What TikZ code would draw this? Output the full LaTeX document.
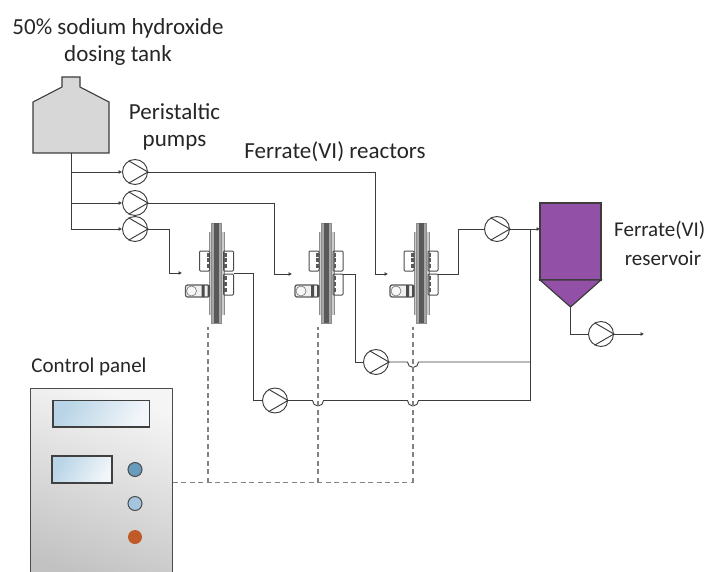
\documentclass[tikz,border=0pt]{standalone}
\usepackage{fontspec}
\setmainfont{Carlito}
\usetikzlibrary{arrows.meta}
\definecolor{pipe}{RGB}{60,60,60}
\definecolor{dash}{RGB}{130,130,130}
\definecolor{tankgrey}{RGB}{215,215,215}
\definecolor{resv}{RGB}{146,80,166}
\definecolor{scrA}{RGB}{184,212,230}
\definecolor{scrB}{RGB}{242,246,250}
\definecolor{knobA}{RGB}{104,156,188}
\definecolor{knobB}{RGB}{164,196,224}
\definecolor{knobC}{RGB}{192,90,40}
\tikzset{
  pipeline/.style={draw=pipe,line width=.9pt},
  flowarrow/.style={pipeline,-{Latex[length=3.5pt,width=4pt]}},
  signal/.style={draw=dash,line width=1.1pt,dash pattern=on 5pt off 3.5pt},
  pumpnode/.style={circle,draw=pipe,line width=.95pt,minimum size=25pt,inner sep=0pt,fill=white},
  label/.style={font=\fontsize{23}{27}\selectfont,text=black!85,inner sep=0pt},
  smalllabel/.style={font=\fontsize{21}{25}\selectfont,text=black!85,inner sep=0pt},
  screenbox/.style={draw=black!75,line width=1.1pt,shading=axis,left color=scrA,right color=scrB,shading angle=60},
  knob/.style={circle,draw=black!70,line width=1pt,minimum size=14pt,inner sep=0pt},
  rpart/.style={draw=black!70,line width=1pt},
}
\newcommand{\pumpglyph}[1]{%
  \draw[pipe,line width=.95pt] (#1.120) -- (#1.east) -- (#1.240);}
\newcommand{\reactor}[2]{%
\begin{scope}[shift={(#1,#2)}]
  \fill[black!20] (-7,9) rectangle (8,92);
  \draw[draw=black!45,line width=.6pt] (-7,9) -- (-7,92) (8,9) -- (8,92);
  \fill[black!35] (-5,0) rectangle (5,100);
  \draw[draw=black!45,line width=.6pt] (-5,0) -- (-5,100) -- (5,100) -- (5,0) -- cycle;
  \fill[black!65] (-2.5,0) rectangle (2.5,100);
  \draw[rpart,rounded corners=1pt] (-17,28) rectangle (-7,48);
  \draw[rpart,rounded corners=1pt] (7,28) rectangle (17,48);
  \draw[rpart,rounded corners=1pt] (7,51) rectangle (17,72);
  \foreach \kx/\ky in {-9/32,-9/37,-9/43,8.5/32,8.5/37,8.5/43,8.5/55,8.5/61,8.5/67}
    {\fill[black!65] (\kx-1,\ky-2) rectangle (\kx+1.5,\ky+2);}
  \draw[draw=black!65,line width=1.2pt,rounded corners=2pt,fill=black!6] (-31,62) rectangle (-7,74);
  \fill[black!70] (-15,62) rectangle (-12,74) (-9,62) rectangle (-7,74);
  \draw[draw=black!50,line width=.7pt,fill=black!3] (-25,68) circle (5);
\end{scope}}
\begin{document}
\begin{tikzpicture}[x=1pt,y=-1pt]
\useasboundingbox (0,0) rectangle (711,572);
\clip (0,0) rectangle (711,572);
% labels
\node[label,align=center] (tanklabel) at (118,41.5) {50\% sodium hydroxide\\dosing tank};
\node[label,align=center] (pumplabel) at (174.5,127) {Peristaltic\\pumps};
\node[label] (reactorlabel) at (335,152) {Ferrate(VI) reactors};
\node[smalllabel] (panellabel) at (89,367) {Control panel};
\node[smalllabel,anchor=west] (reservoirlabel) at (614,230) {Ferrate(VI)};
\node[smalllabel] (reservoirlabel2) at (663,258) {reservoir};
% tank
\draw[pipe,line width=1.1pt,fill=tankgrey] (33,153) -- (33,102) -- (62,87) -- (62,77) -- (80,77) -- (80,87) -- (109,102) -- (109,153) -- cycle;
\coordinate (tankout) at (71,153);
\coordinate (j1) at (71,172);
\coordinate (j2) at (71,203);
\coordinate (j3) at (71,229);
% reactors
\reactor{216.5}{223}
\reactor{326}{223}
\reactor{421}{223}
% pumps
\node[pumpnode] (p1) at (135,172) {};
\node[pumpnode] (p2) at (135,203) {};
\node[pumpnode] (p3) at (135,229) {};
\node[pumpnode] (p4) at (497,229) {};
\node[pumpnode] (p5) at (376,362) {};
\node[pumpnode] (p6) at (275,400.5) {};
\node[pumpnode] (p7) at (601,334) {};
\foreach \p in {p1,p2,p3,p4,p5,p6,p7} {\pumpglyph{\p}}
% reservoir
\draw[pipe,line width=1.2pt,fill=resv] (540,203) rectangle (601,280);
\draw[pipe,line width=1.2pt,fill=resv] (540,280) -- (601,280) -- (570.5,307) -- cycle;
\coordinate (resin) at (540,229);
\coordinate (resout) at (570.5,307);
\coordinate (out) at (644,334);
% pipes
\draw[pipeline] (tankout) -- (j3);
\draw[flowarrow] (j1) -- (p1.west);
\draw[flowarrow] (j2) -- (p2.west);
\draw[flowarrow] (j3) -- (p3.west);
\coordinate (r1in) at (182,273);
\coordinate (r2in) at (292,274);
\coordinate (r3in) at (388,274);
\draw[flowarrow] (p1.east) -- (375,172) -- (375,274) -- (r3in);
\draw[flowarrow] (p2.east) -- (274,203) -- (274,274) -- (r2in);
\draw[flowarrow] (p3.east) -- (169,229) -- (169,273) -- (r1in);
\coordinate (r1out) at (233.5,273);
\coordinate (r2out) at (343,274);
\coordinate (r3out) at (438,274);
\draw[pipeline] (r1out) -- (253,273) -- (253,400.5) -- (p6.west);
\draw[pipeline] (r2out) -- (355,274) -- (355,362) -- (p5.west);
\draw[pipeline] (r3out) -- (458,274) -- (458,229) -- (p4.west);
\draw[flowarrow] (p4.east) -- (resin);
\coordinate (b4) at (530,229);
\coordinate (b5) at (530,362);
\coordinate (b6) at (530,400.5);
\draw[pipeline] (p5.east) -- (407.5,362) arc[start angle=180,end angle=0,radius=5.5] -- (b5);
\draw[pipeline] (p6.east) -- (312.5,400.5) arc[start angle=180,end angle=0,radius=5.5] -- (407.5,400.5) arc[start angle=180,end angle=0,radius=5.5] -- (b6);
\draw[pipeline] (b4) -- (b6);
\draw[pipeline] (resout) -- (570.5,334) -- (p7.west);
\draw[flowarrow] (p7.east) -- (out);
% control panel
\draw[draw=black!70,line width=1.2pt,shading=axis,top color=black!4,bottom color=black!24,shading angle=-20] (30.5,388.5) -- (172.5,388.5) -- (172.5,585) -- (30.5,585) -- cycle;
\draw[screenbox] (53,400.5) rectangle (149.5,427);
\draw[screenbox] (52,456) rectangle (112,483);
\node[knob,fill=knobA] (k1) at (135,469.5) {};
\node[knob,fill=knobB] (k2) at (135,503.5) {};
\node[circle,fill=knobC,minimum size=14pt,inner sep=0pt] (k3) at (135,537) {};
% signal lines
\coordinate (sp) at (172.5,482.5);
\coordinate (s1) at (208,482.5);
\coordinate (s2) at (318,482.5);
\coordinate (s3) at (413,482.5);
\draw[signal] (sp) -- (s3);
\draw[signal] (s1) -- (208,327);
\draw[signal] (s2) -- (318,327);
\draw[signal] (s3) -- (413,327);
\end{tikzpicture}
\end{document}
